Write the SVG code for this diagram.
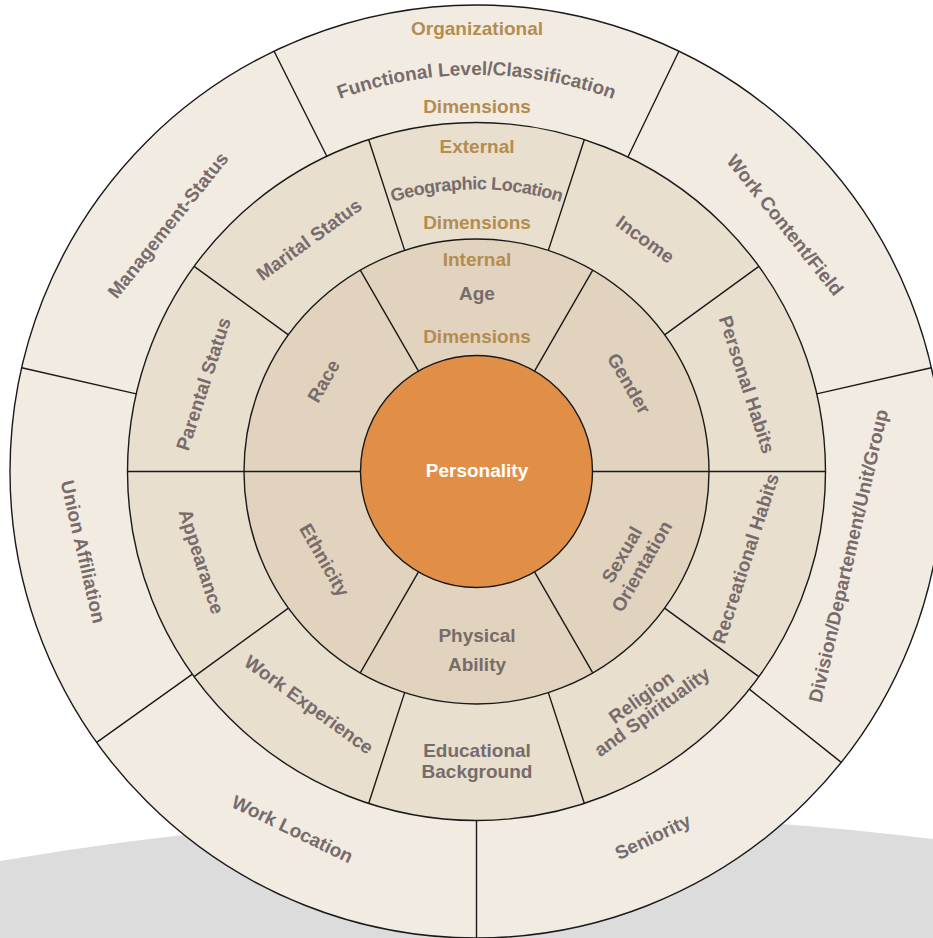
<svg xmlns="http://www.w3.org/2000/svg" xmlns:xlink="http://www.w3.org/1999/xlink" width="933" height="938" viewBox="0 0 933 938">
  <style>
    .ring { stroke: #1a1a1a; stroke-width: 1.4; }
    .spoke { stroke: #1a1a1a; stroke-width: 1.4; fill: none; }
    .g { font-family: "Liberation Sans", Arial, sans-serif; font-weight: bold; font-size: 19px; fill: #776b6c; text-anchor: middle; }
    .o { font-family: "Liberation Sans", Arial, sans-serif; font-weight: bold; font-size: 19px; fill: #b48c50; text-anchor: middle; }
    .w { font-family: "Liberation Sans", Arial, sans-serif; font-weight: bold; font-size: 19px; fill: #ffffff; text-anchor: middle; }
  </style>
  <defs>
    <path id="arcOuter" d="M221.32,167.6 A397.5,397.5 0 0 1 731.68,167.6"/>
    <path id="arcMiddle" d="M294.91,255.09 A283.5,283.5 0 0 1 658.09,255.09"/>
  </defs>

  <rect width="933" height="938" fill="#ffffff"/>
  <path id="backdrop" d="M0,861 Q466.5,781 933,839 L933,938 L0,938 Z" fill="#dcdcdc"/>

  <g id="organizational-ring">
    <circle class="ring" cx="476.5" cy="471.5" r="466.5" fill="#f2ebe1"/>
  </g>
  <g id="connectors-outer">
    <path class="spoke" d="M327.2,157.06 L274.09,51.2 M627.92,157.06 L678.91,51.2 M136.25,393.84 L21.7,367.7 M816.75,393.84 L931.3,367.7 M749.36,689.1 L841.22,762.36 M192.37,674.16 L96.71,742.4 M476.5,820.5 L476.5,940"/>
  </g>
  <g id="external-ring">
    <circle class="ring" cx="476.5" cy="471.5" r="349" fill="#e8dfcf"/>
  </g>
  <g id="connectors-middle">
    <path class="spoke" d="M548.35,250.38 L584.35,139.58 M404.65,250.38 L368.65,139.58 M664.6,334.84 L758.85,266.36 M288.4,334.84 L194.15,266.36 M709,471.5 L825.5,471.5 M244,471.5 L127.5,471.5 M664.6,608.16 L758.85,676.64 M288.4,608.16 L194.15,676.64 M548.35,692.62 L584.35,803.42 M404.65,692.62 L368.65,803.42"/>
  </g>
  <g id="internal-ring">
    <circle class="ring" cx="476.5" cy="471.5" r="232.5" fill="#e1d3bd"/>
  </g>
  <g id="connectors-inner">
    <path class="spoke" d="M534.5,371.04 L592.75,270.15 M418.5,371.04 L360.25,270.15 M592.5,471.5 L709,471.5 M360.5,471.5 L244,471.5 M534.5,571.96 L592.75,672.85 M418.5,571.96 L360.25,672.85"/>
  </g>
  <g id="personality">
    <circle class="ring" cx="476.5" cy="471.5" r="116" fill="#e18f46"/>
    <text class="w" x="477" y="470.5" dy="0.35em">Personality</text>
  </g>

  <g id="organizational-labels">
    <text class="o" x="477" y="28.5" dy="0.35em">Organizational</text>
    <text class="g"><textPath xlink:href="#arcOuter" href="#arcOuter" startOffset="50%">Functional Level/Classification</textPath></text>
    <text class="o" x="477" y="106.5" dy="0.35em">Dimensions</text>
    <text class="g" x="785.2" y="225.1" dy="0.35em" transform="rotate(51.4 785.2 225.1)">Work Content/Field</text>
    <text class="g" x="848.3" y="555.8" dy="0.35em" transform="rotate(-77.1 848.3 555.8)">Division/Departement/Unit/Group</text>
    <text class="g" x="652.7" y="836.7" dy="0.35em" transform="rotate(-25.7 652.7 836.7)">Seniority</text>
    <text class="g" x="292.5" y="829" dy="0.35em" transform="rotate(25.7 292.5 829)">Work Location</text>
    <text class="g" x="83.3" y="551.7" dy="0.35em" transform="rotate(77.1 83.3 551.7)">Union Affiliation</text>
    <text class="g" x="167.8" y="225.1" dy="0.35em" transform="rotate(-51.4 167.8 225.1)">Management-Status</text>
  </g>

  <g id="external-labels">
    <text class="o" x="477" y="146" dy="0.35em">External</text>
    <text class="g" style="font-size:18px;letter-spacing:-0.5px"><textPath xlink:href="#arcMiddle" href="#arcMiddle" startOffset="50%">Geographic Location</textPath></text>
    <text class="o" x="477" y="222" dy="0.35em">Dimensions</text>
    <text class="g" x="645.2" y="239.3" dy="0.35em" transform="rotate(36 645.2 239.3)">Income</text>
    <text class="g" x="747" y="384.5" dy="0.35em" transform="rotate(72 747 384.5)">Personal Habits</text>
    <text class="g" x="745.5" y="558.5" dy="0.35em" transform="rotate(-72 745.5 558.5)">Recreational Habits</text>
    <text class="g" transform="rotate(-36 646.5 704.5)"><tspan x="646.5" y="695.5" dy="0.35em">Religion</tspan><tspan x="646.5" y="713.5" dy="0.35em">and Spirituality</tspan></text>
    <text class="g"><tspan x="477" y="750.7" dy="0.35em">Educational</tspan><tspan x="477" y="771.3" dy="0.35em">Background</tspan></text>
    <text class="g" x="309" y="704.5" dy="0.35em" transform="rotate(36 309 704.5)">Work Experience</text>
    <text class="g" x="201.5" y="561.5" dy="0.35em" transform="rotate(72 201.5 561.5)">Appearance</text>
    <text class="g" x="203.3" y="384" dy="0.35em" transform="rotate(-72 203.3 384)">Parental Status</text>
    <text class="g" x="309" y="239.5" dy="0.35em" transform="rotate(-36 309 239.5)">Marital Status</text>
  </g>

  <g id="internal-labels">
    <text class="o" x="477" y="259.5" dy="0.35em">Internal</text>
    <text class="g" x="477" y="293" dy="0.35em">Age</text>
    <text class="o" x="477" y="336.3" dy="0.35em">Dimensions</text>
    <text class="g" x="629" y="383.5" dy="0.35em" transform="rotate(60 629 383.5)">Gender</text>
    <text class="g" transform="rotate(-60 631.7 560.5)"><tspan x="631.7" y="549" dy="0.35em">Sexual</tspan><tspan x="631.7" y="572" dy="0.35em">Orientation</tspan></text>
    <text class="g"><tspan x="477" y="635.5" dy="0.35em">Physical</tspan><tspan x="477" y="664.2" dy="0.35em">Ability</tspan></text>
    <text class="g" x="324.5" y="560" dy="0.35em" transform="rotate(60 324.5 560)">Ethnicity</text>
    <text class="g" x="323.5" y="381" dy="0.35em" transform="rotate(-60 323.5 381)">Race</text>
  </g>
</svg>
